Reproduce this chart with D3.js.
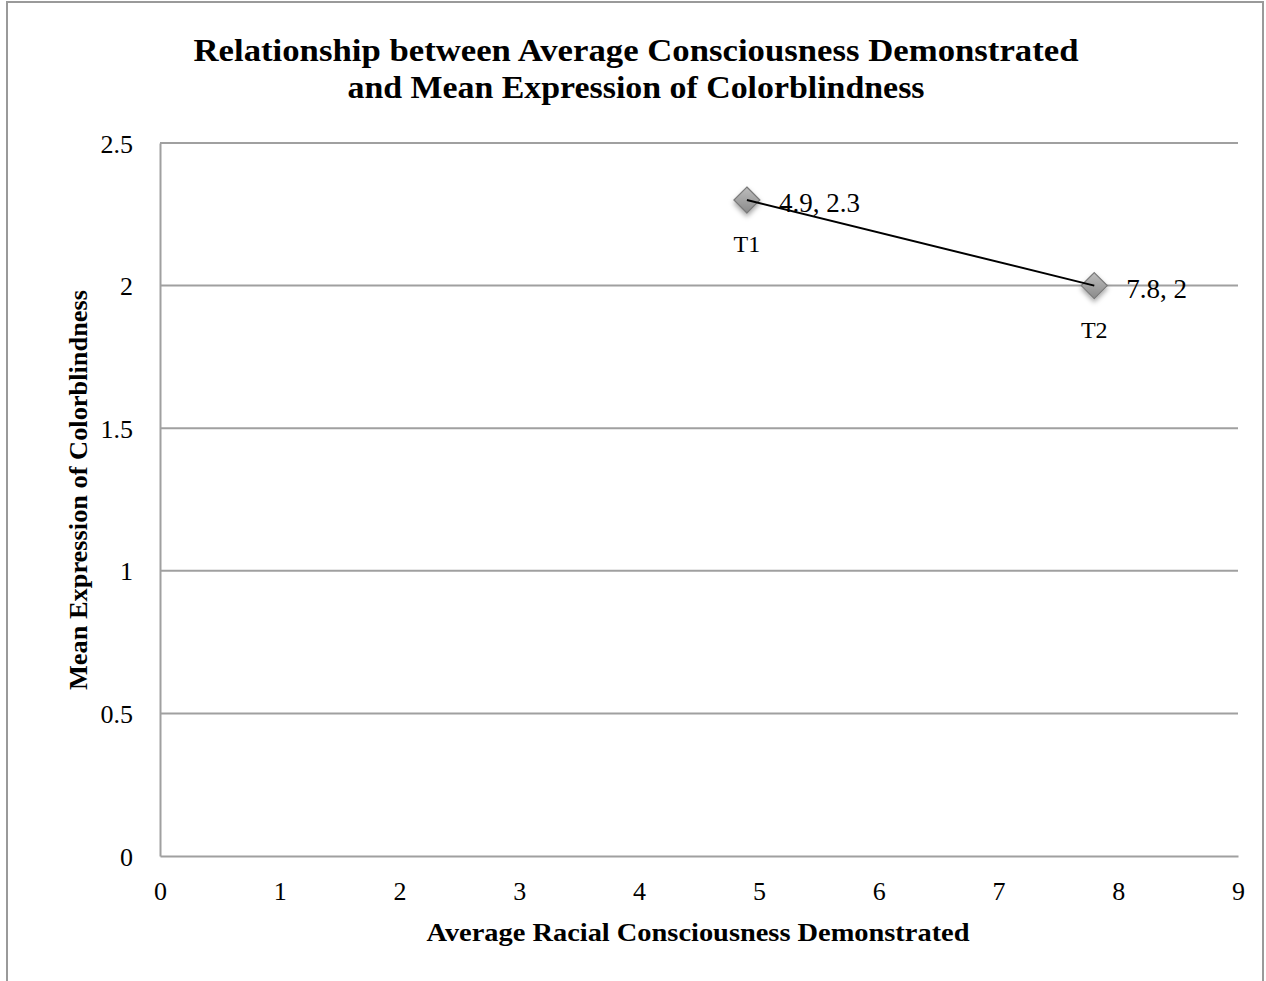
<!DOCTYPE html>
<html>
<head>
<meta charset="utf-8">
<script src="https://cdn.jsdelivr.net/npm/d3@7"></script>
<style>
  html, body { margin: 0; padding: 0; background: #fff; }
  svg { display: block; }
  text { font-family: "Liberation Serif", "DejaVu Serif", serif; fill: #000; }
</style>
</head>
<body>
<svg id="chart" width="1266" height="981"></svg>
<script>
// Data: mean values at two time points
const pointNames = ["T1", "T2"];
const consciousness = [4.9, 7.8];
const colorblindness = [2.3, 2.0];
const valueLabels = ["4.9, 2.3", "7.8, 2"];
const xTicks = [0, 1, 2, 3, 4, 5, 6, 7, 8, 9];
const yTicks = [0, 0.5, 1, 1.5, 2, 2.5];
const yTickLabels = ["0", "0.5", "1", "1.5", "2", "2.5"];

const svg = d3.select("#chart");
const W = 1266, H = 981;

// chart frame
svg.append("path")
  .attr("d", `M7,${H + 5} V2 H1263 V${H + 5}`)
  .attr("fill", "none").attr("stroke", "#9a9a9a").attr("stroke-width", 2);

const plot = { left: 160, right: 1238, top: 143, bottom: 856 };
const x = d3.scaleLinear().domain([0, 9]).range([plot.left, plot.right]);
const y = d3.scaleLinear().domain([0, 2.5]).range([plot.bottom, plot.top]);

// horizontal gridlines
svg.append("g").selectAll("line").data(yTicks.filter(d => d > 0)).join("line")
  .attr("x1", plot.left).attr("x2", plot.right)
  .attr("y1", d => y(d)).attr("y2", d => y(d))
  .attr("stroke", "#a0a0a0").attr("stroke-width", 2);

// axes
const yAxis = svg.append("g").attr("transform", `translate(${plot.left},0)`)
  .call(d3.axisLeft(y).tickValues(yTicks).tickSize(0).tickPadding(27)
    .tickFormat((d, i) => yTickLabels[i]));
yAxis.select(".domain").attr("stroke", "#a0a0a0").attr("stroke-width", 2);
yAxis.selectAll("text").attr("font-size", 26).attr("dy", "0.35em")
  .style("font-family", "Liberation Serif, serif");

const xAxis = svg.append("g").attr("transform", `translate(0,${plot.bottom})`)
  .call(d3.axisBottom(x).tickValues(xTicks).tickSize(0)
    .tickFormat(d3.format("d")));
xAxis.select(".domain").attr("stroke", "#a0a0a0").attr("stroke-width", 2);
xAxis.selectAll("text").attr("font-size", 26).attr("y", 44).attr("dy", 0)
  .style("font-family", "Liberation Serif, serif");

// title
const title = svg.append("text").attr("text-anchor", "middle")
  .attr("font-weight", "bold").attr("font-size", 32);
title.append("tspan").attr("x", 636).attr("y", 61)
  .attr("textLength", 885).attr("lengthAdjust", "spacingAndGlyphs")
  .text("Relationship between Average Consciousness Demonstrated");
title.append("tspan").attr("x", 636).attr("y", 98)
  .attr("textLength", 577).attr("lengthAdjust", "spacingAndGlyphs")
  .text("and Mean Expression of Colorblindness");

// axis titles
svg.append("text").attr("x", 698).attr("y", 941).attr("text-anchor", "middle")
  .attr("font-weight", "bold").attr("font-size", 26)
  .attr("textLength", 543).attr("lengthAdjust", "spacingAndGlyphs")
  .text("Average Racial Consciousness Demonstrated");
svg.append("text").attr("transform", "translate(87,490) rotate(-90)")
  .attr("text-anchor", "middle").attr("font-weight", "bold").attr("font-size", 26)
  .attr("textLength", 400).attr("lengthAdjust", "spacingAndGlyphs")
  .text("Mean Expression of Colorblindness");

// marker styling
const defs = svg.append("defs");
const grad = defs.append("linearGradient").attr("id", "mk")
  .attr("x1", 0).attr("y1", 0).attr("x2", 0).attr("y2", 1);
grad.append("stop").attr("offset", "0%").attr("stop-color", "#bdbdbd");
grad.append("stop").attr("offset", "100%").attr("stop-color", "#8a8a8a");
const shadow = defs.append("filter").attr("id", "sh")
  .attr("x", "-50%").attr("y", "-50%").attr("width", "200%").attr("height", "200%");
shadow.append("feDropShadow").attr("dx", 0).attr("dy", 3).attr("stdDeviation", 2.5)
  .attr("flood-color", "#000").attr("flood-opacity", 0.35);

const pts = consciousness.map((c, i) => ({
  name: pointNames[i], x: c, y: colorblindness[i], label: valueLabels[i]
}));

// diamond markers
svg.append("g").selectAll("path").data(pts).join("path")
  .attr("transform", d => `translate(${x(d.x)},${y(d.y)})`)
  .attr("d", "M0,-13 L13,0 L0,13 L-13,0 Z")
  .attr("fill", "url(#mk)").attr("stroke", "#7a7a7a").attr("stroke-width", 1.2)
  .attr("filter", "url(#sh)");

// connecting line, drawn over the markers so it reaches their centres
svg.append("path")
  .datum(pts)
  .attr("d", d3.line().x(d => x(d.x)).y(d => y(d.y)))
  .attr("fill", "none").attr("stroke", "#000").attr("stroke-width", 2);

// value labels and point names
svg.append("g").selectAll("text").data(pts).join("text")
  .attr("x", d => x(d.x) + 32).attr("y", d => y(d.y) + 12)
  .attr("font-size", 27).text(d => d.label);
svg.append("g").selectAll("text").data(pts).join("text")
  .attr("x", d => x(d.x)).attr("y", d => y(d.y) + 52)
  .attr("text-anchor", "middle").attr("font-size", 24).text(d => d.name);
</script>
</body>
</html>
